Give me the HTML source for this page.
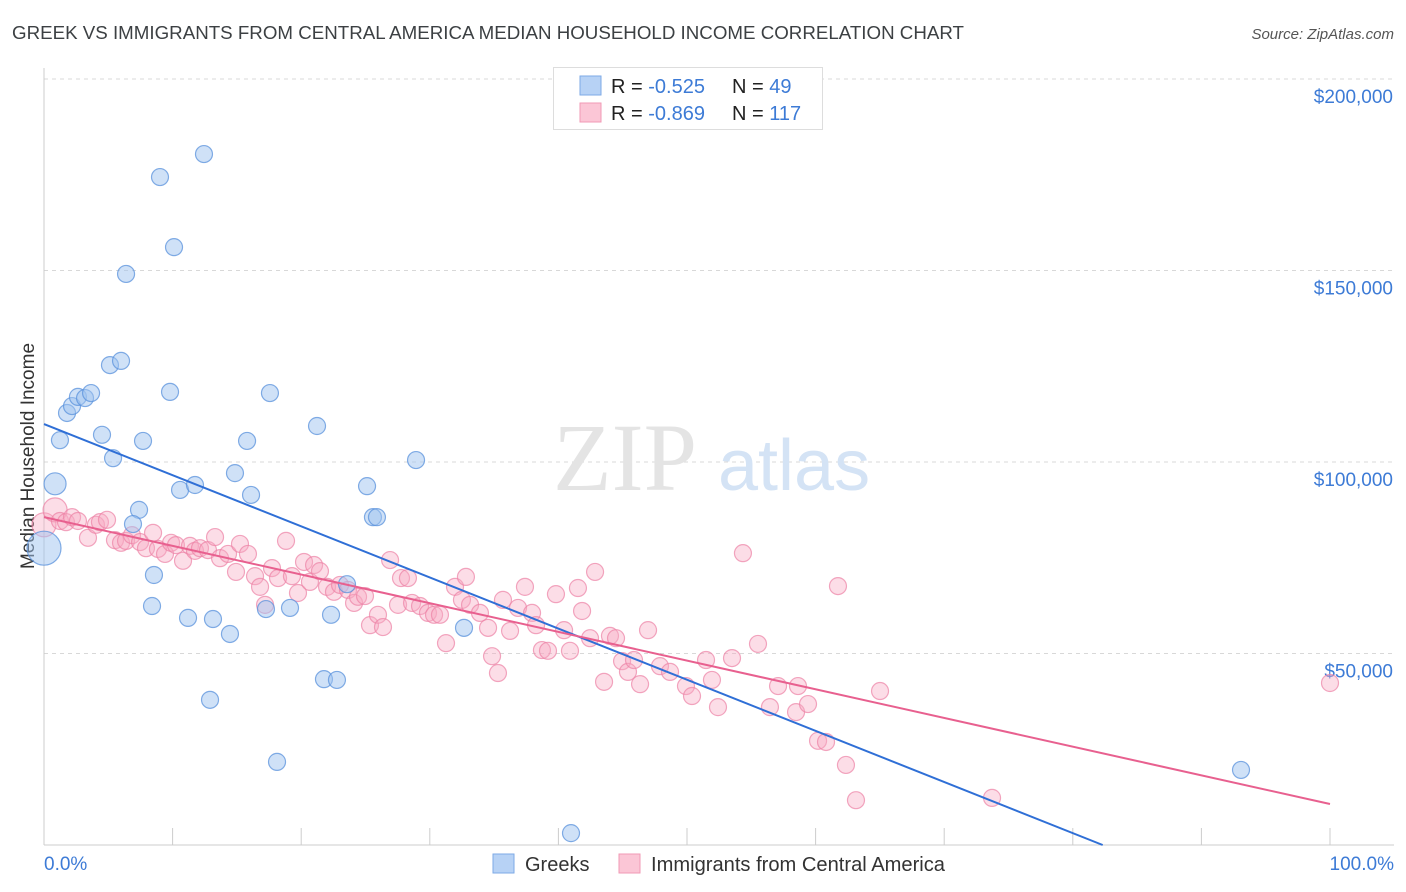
<!DOCTYPE html>
<html><head><meta charset="utf-8"><style>
body{margin:0;background:#fff;font-family:"Liberation Sans",sans-serif;}
#wrap{position:relative;width:1406px;height:892px;overflow:hidden;}
</style></head><body>
<div id="wrap">
<svg id="svg" width="1406" height="892" xmlns="http://www.w3.org/2000/svg"></svg>
</div>
<script>
const greekX=[0,0.86,1.24,1.79,2.18,2.64,3.19,3.66,4.51,5.13,5.37,5.99,6.38,7.39,6.92,7.70,8.55,8.40,9.02,9.80,10.11,10.58,11.20,11.74,12.44,12.91,13.14,14.46,14.85,16.10,15.79,17.26,17.57,18.12,19.13,21.23,21.77,22.32,22.78,23.56,25.12,25.58,25.89,28.93,32.66,40.98,93.08];
const greekY=[77.5,94.3,105.7,112.8,114.6,117.0,116.7,118.0,107.1,125.3,101.0,126.4,149.1,87.5,83.8,105.5,70.5,62.4,174.4,118.3,156.1,92.7,59.3,94.0,180.4,37.9,59.0,55.1,97.1,91.4,105.5,61.6,118.0,21.7,61.9,109.4,43.3,60.1,43.1,68.1,93.7,85.6,85.6,100.5,56.7,3.1,19.6];
const camX=[0,0.86,1.24,1.71,2.18,2.64,3.42,4.04,4.35,4.90,5.52,5.99,6.38,6.84,7.47,7.93,8.48,8.86,9.41,9.88,10.26,10.81,11.35,11.74,12.13,12.75,13.30,13.69,14.31,14.93,15.24,15.86,16.41,16.80,17.19,17.73,18.20,18.82,19.28,19.75,20.22,20.68,21.00,21.46,22.01,22.55,23.02,23.64,24.11,24.42,24.96,25.35,25.97,26.36,26.91,27.53,27.76,28.30,28.62,29.24,29.86,30.33,30.79,31.26,31.96,32.50,32.81,33.13,33.90,34.53,34.84,35.30,35.69,36.24,36.86,37.40,37.95,38.26,38.72,39.19,39.81,40.44,40.90,41.52,41.84,42.46,42.85,43.55,44.01,44.48,44.95,45.41,45.88,46.35,46.97,47.90,48.68,49.92,50.39,51.48,51.94,52.41,53.50,54.35,55.52,56.45,57.08,58.48,58.63,59.41,60.19,60.81,61.74,62.36,63.14,65.01,73.72,100];
const camY=[83.6,87.5,84.6,84.3,85.6,84.6,80.2,83.6,84.3,84.9,79.6,78.9,79.4,80.9,79.1,77.5,81.5,77.3,76.0,78.9,78.3,74.2,78.1,76.8,77.5,77.0,80.4,74.9,76.0,71.3,78.6,76.0,70.2,67.4,62.7,72.3,69.7,79.4,70.2,65.8,73.9,68.7,73.1,71.5,67.4,66.1,67.9,66.6,63.2,64.8,65.0,57.4,60.1,56.9,74.4,62.7,69.7,69.7,63.2,62.4,60.6,60.1,60.1,52.7,67.4,64.0,70.0,62.7,60.6,56.7,49.3,44.9,64.0,55.9,61.9,67.4,60.6,57.4,50.9,50.7,65.5,56.1,50.7,67.1,61.1,54.0,71.3,42.6,54.6,54.0,48.0,45.2,48.3,42.0,56.1,46.7,45.2,41.5,38.9,48.3,43.1,36.0,48.8,76.2,52.5,36.0,41.5,34.7,41.5,36.8,27.2,26.9,67.6,20.9,11.7,40.2,12.3,42.3];
const yTicks=[50,100,150,200];
const yTickLabels=["$50,000","$100,000","$150,000","$200,000"];
const greekTrend=[109.9,-1.335]; // intercept ($k), slope per %
const camTrend=[85.6,-0.749];

const svg=document.getElementById('svg');
const NS="http://www.w3.org/2000/svg";
const X=p=>44+p*12.86;
const Y=v=>845-v*3.83;
function mk(tag,attrs,parent){const e=document.createElementNS(NS,tag);for(const k in attrs)e.setAttribute(k,attrs[k]);(parent||svg).appendChild(e);return e;}

let t=mk('text',{x:12,y:39,'font-size':18,fill:'#3c4043',textLength:952,lengthAdjust:'spacingAndGlyphs'});t.textContent="GREEK VS IMMIGRANTS FROM CENTRAL AMERICA MEDIAN HOUSEHOLD INCOME CORRELATION CHART";


t=mk('text',{x:1394,y:39,'font-size':15,fill:'#555','font-style':'italic','text-anchor':'end'});t.textContent="Source: ZipAtlas.com";



yTicks.forEach((v,i)=>{
  const g=mk('line',{x1:44,x2:1394,y1:Y(v),y2:Y(v),stroke:'#d8d8d8','stroke-dasharray':'4,4'});
  
  
  const l=mk('text',{x:1393,y:Y(v)+24,'font-size':19,fill:'#3d7bd6','text-anchor':'end'});l.textContent=yTickLabels[i];
  
  
});
let a=mk('line',{x1:44,x2:44,y1:68,y2:845,stroke:'#ccc'});


a=mk('line',{x1:44,x2:1394,y1:845,y2:845,stroke:'#ccc'});


for(let i=0;i<=10;i++){const tk=mk('line',{x1:X(i*10),x2:X(i*10),y1:828,y2:845,stroke:'#ccc'});

}
t=mk('text',{x:44,y:870,'font-size':19,fill:'#3d7bd6'});t.textContent="0.0%";


t=mk('text',{x:1394,y:870,'font-size':19,fill:'#3d7bd6','text-anchor':'end'});t.textContent="100.0%";


t=mk('text',{x:34,y:456,'font-size':19,fill:'#333','text-anchor':'middle',transform:'rotate(-90 34 456)'});t.textContent="Median Household Income";



t=mk('text',{x:553,y:490,'font-size':96,fill:'#e4e4e4','font-family':'Liberation Serif,serif'});t.textContent="ZIP";


t=mk('text',{x:718,y:490,'font-size':72,fill:'#d4e3f5'});t.textContent="atlas";



camX.forEach((x,i)=>{const c=mk('circle',{cx:X(x),cy:Y(camY[i]),r:i<2?12:8.5,fill:'rgba(247,170,195,0.4)',stroke:'rgba(236,130,165,0.7)','stroke-width':1.2});

});
greekX.forEach((x,i)=>{const c=mk('circle',{cx:X(x),cy:Y(greekY[i]),r:i==0?17:(i==1?11:8.5),fill:'rgba(160,195,240,0.5)',stroke:'rgba(90,145,220,0.75)','stroke-width':1.2});

});

const gx2=-greekTrend[0]/greekTrend[1];
let ln=mk('line',{x1:X(0),y1:Y(greekTrend[0]),x2:X(gx2),y2:Y(0),stroke:'#2f6fd6','stroke-width':2});


ln=mk('line',{x1:X(0),y1:Y(camTrend[0]),x2:X(100),y2:Y(camTrend[0]+camTrend[1]*100),stroke:'#e8608f','stroke-width':2});



let lg=mk('g',{});


mk('rect',{x:553.5,y:67.5,width:269,height:62,fill:'#fff',stroke:'#ddd'},lg);
mk('rect',{x:580,y:76,width:21,height:19,fill:'#b7d2f5',stroke:'#7eaae6'},lg);
mk('rect',{x:580,y:103,width:21,height:19,fill:'#fbc6d6',stroke:'#f09ab5'},lg);
[["-0.525","49",93],["-0.869","117",120]].forEach(r=>{
  let e=mk('text',{x:611,y:r[2],'font-size':20,fill:'#222'},lg);e.innerHTML='R = <tspan fill="#3d7bd6">'+r[0]+'</tspan>';
  e=mk('text',{x:732,y:r[2],'font-size':20,fill:'#222'},lg);e.innerHTML='N = <tspan fill="#3d7bd6">'+(r[1]=="49"?" 49":r[1])+'</tspan>';
});

let bl=mk('g',{});


mk('rect',{x:493,y:854,width:21,height:19,fill:'#b7d2f5',stroke:'#7eaae6'},bl);
t=mk('text',{x:525,y:871,'font-size':20,fill:'#333'},bl);t.textContent="Greeks";
mk('rect',{x:619,y:854,width:21,height:19,fill:'#fbc6d6',stroke:'#f09ab5'},bl);
t=mk('text',{x:651,y:871,'font-size':20,fill:'#333',textLength:294,lengthAdjust:'spacingAndGlyphs'},bl);t.textContent="Immigrants from Central America";
</script>
</body></html>
